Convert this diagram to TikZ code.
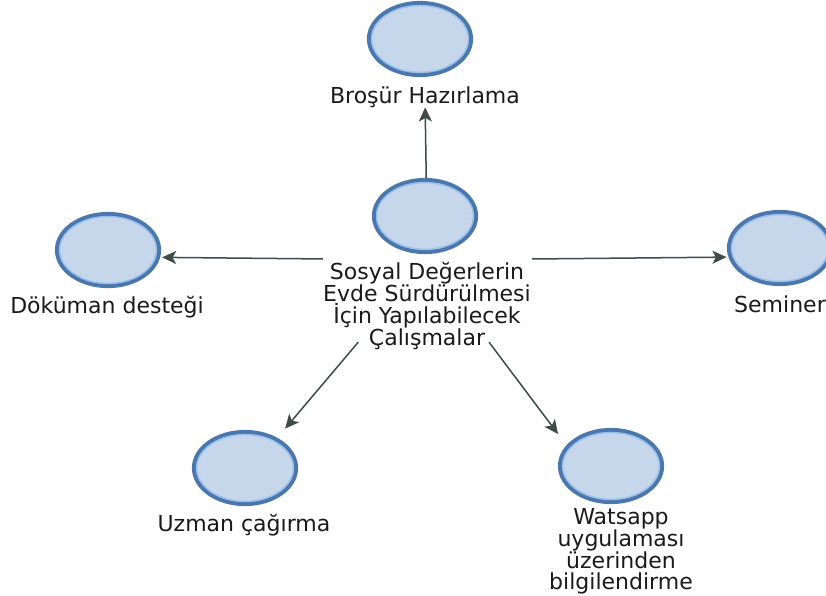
\documentclass[tikz,border=0pt]{standalone}
\usepackage{fontspec}
\setmainfont{DejaVu Sans}
\usetikzlibrary{arrows.meta,shapes.geometric}
\definecolor{cfill}{HTML}{C7D7EB}
\definecolor{cedge}{HTML}{4A78AE}
\definecolor{cring}{HTML}{9BC0EA}
\definecolor{carrow}{HTML}{3E4B48}
\definecolor{ctext}{HTML}{1A1A1A}
\begin{document}
\begin{tikzpicture}[x=1pt,y=-1pt,
  bubble/.style={ellipse, draw=cedge, line width=4.2pt, fill=cfill, minimum width=102pt, minimum height=72pt, inner sep=0pt},
  ring/.style={draw=cring, line width=1.5pt},
  lbl/.style={font=\fontsize{22}{20.3}\selectfont, text=ctext, inner sep=0pt, align=center},
  arr/.style={draw=carrow, line width=1.5pt, -{Stealth[length=14pt,width=13pt,inset=3.5pt]}},
]
\useasboundingbox (0,0) rectangle (826,595);
\fill[white] (0,0) rectangle (826,595);

\node[bubble] (bro) at (420,39) {};
\node[bubble] (cen) at (425,216) {};
\node[bubble] (dok) at (108,250) {};
\node[bubble] (sem) at (780,248) {};
\node[bubble] (uzm) at (245,468) {};
\node[bubble] (wat) at (611,466) {};
\foreach \n in {bro,cen,dok,sem,uzm,wat}
  \draw[ring] (\n) ellipse [x radius=48.4, y radius=33.4];

\node[lbl, anchor=base] (lbro) at (425,103) {Broşür Hazırlama};
\node[lbl, anchor=north] (lcen) at (427,262) {Sosyal Değerlerin\\Evde Sürdürülmesi\\İçin Yapılabilecek\\Çalışmalar};
\node[lbl, anchor=base] (ldok) at (107,313) {Döküman desteği};
\node[lbl, anchor=base] (lsem) at (780,312) {Seminer};
\node[lbl, anchor=base] (luzm) at (244,531) {Uzman çağırma};
\node[lbl, anchor=north] (lwat) at (621,508) {Watsapp\\uygulaması\\üzerinden\\bilgilendirme};

\node[minimum width=209pt, minimum height=164pt, inner sep=0pt] (hub) at (427.5,260) {};

\draw[arr] (hub) -- (lbro);
\draw[arr, shorten >=2pt] (hub) -- (dok.-8);
\draw[arr, shorten >=2pt] (hub) -- (sem.190);
\draw[arr, shorten >=12pt] (hub) -- (uzm.43);
\draw[arr, shorten >=14pt] (hub) -- (wat.155);
\end{tikzpicture}
\end{document}
